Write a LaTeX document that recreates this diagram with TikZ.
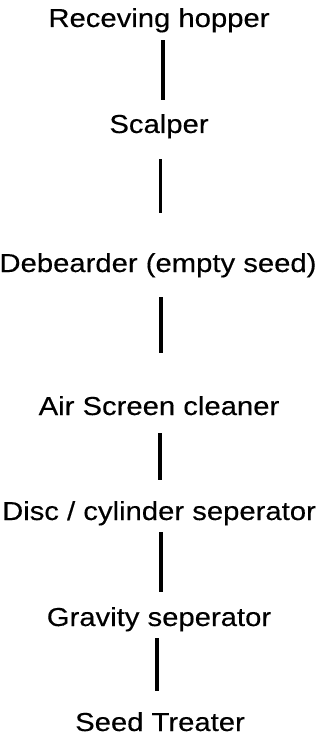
\documentclass[tikz,border=0pt]{standalone}
\usepackage{fontspec}
\setmainfont{Liberation Sans}[FakeStretch=1.125,FakeBold=0.3]
\begin{document}
\begin{tikzpicture}[x=1pt,y=1pt,
  stage/.style={anchor=base,inner sep=0pt,text height=18pt,text depth=5pt,
    font=\fontsize{26}{31}\selectfont},
  link/.style={line width=3.5pt}]
\useasboundingbox[fill=white] (0,0) rectangle (320,-735);
% process stages, top to bottom
\node[stage] (hopper)  at (159,-27)  {Receving hopper};
\node[stage] (scalper) at (159,-133) {Scalper};
\node[stage] (debeard) at (158,-272) {Debearder (empty seed)};
\node[stage] (air)     at (159,-415) {Air Screen cleaner};
\node[stage] (disc)    at (159,-520) {Disc / cylinder seperator};
\node[stage] (gravity) at (159,-626) {Gravity seperator};
\node[stage] (treater) at (160,-731) {Seed Treater};
% plain connectors between consecutive stages
\draw[link] ([xshift=4pt,yshift=-8pt]hopper.south)    -- ([xshift=4pt,yshift=15pt]scalper.north);
\draw[link] ([xshift=1.5pt,yshift=-21pt]scalper.south) -- ([xshift=2.5pt,yshift=41pt]debeard.north);
\draw[link] ([xshift=3pt,yshift=-20pt]debeard.south)  -- ([xshift=2pt,yshift=44pt]air.north);
\draw[link] ([xshift=1pt,yshift=-13pt]air.south)      -- ([xshift=1pt,yshift=22pt]disc.north);
\draw[link] ([xshift=2pt,yshift=-7pt]disc.south)      -- ([xshift=2pt,yshift=16pt]gravity.north);
\draw[link] ([xshift=-2pt,yshift=-7pt]gravity.south)  -- ([xshift=-3pt,yshift=22pt]treater.north);
\end{tikzpicture}
\end{document}
